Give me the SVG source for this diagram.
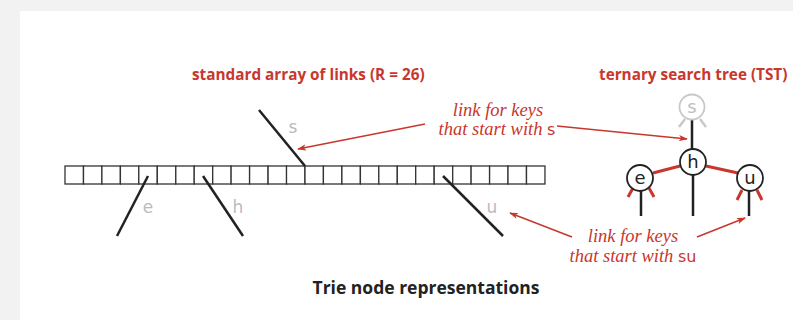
<svg xmlns="http://www.w3.org/2000/svg" width="793" height="320" viewBox="0 0 793 320">
<defs>
<style>
.title{font-family:"Open Sans","Liberation Sans",sans-serif;font-weight:bold;font-size:15.3px;fill:#c8372d}
.note{font-family:"Liberation Serif",serif;font-style:italic;font-size:18.5px;fill:#c8372d}
.mono{font-family:"DejaVu Sans","Liberation Sans",sans-serif;font-style:normal;font-size:16px}
.lbl{font-family:"DejaVu Sans","Liberation Sans",sans-serif;font-size:17px;fill:#bbbbbb}
.cell{fill:#fff;stroke:#333;stroke-width:1.3}
.link{stroke:#222;stroke-width:2.5;fill:none;stroke-linecap:butt}
.arr{stroke:#c8372d;stroke-width:1.5;fill:none}
.node{fill:#fff;stroke:#222;stroke-width:1.8}
.nodetxt{font-family:"DejaVu Sans","Liberation Sans",sans-serif;font-size:18px;fill:#222;text-anchor:middle}
.redl{stroke:#c8372d;stroke-width:3;fill:none}
.gray{stroke:#c8c8c8;stroke-width:2.5;fill:none}
</style>
<marker id="ah" viewBox="0 0 10 10" refX="9" refY="5" markerWidth="9" markerHeight="9" markerUnits="userSpaceOnUse" orient="auto">
<path d="M0,1.5 L10,5 L0,8.5 L2.5,5 Z" fill="#c8372d"/>
</marker>
</defs>
<rect x="0" y="0" width="793" height="320" fill="#f2f2f2"/>
<rect x="20" y="11" width="773" height="309" fill="#fff"/>

<text class="title" x="192" y="80">standard array of links (R = 26)</text>
<text class="title" x="599" y="80">ternary search tree (TST)</text>

<g id="array">
<rect class="cell" x="65.0" y="166" width="18.46" height="18"/>
<rect class="cell" x="83.5" y="166" width="18.46" height="18"/>
<rect class="cell" x="101.9" y="166" width="18.46" height="18"/>
<rect class="cell" x="120.4" y="166" width="18.46" height="18"/>
<rect class="cell" x="138.8" y="166" width="18.46" height="18"/>
<rect class="cell" x="157.3" y="166" width="18.46" height="18"/>
<rect class="cell" x="175.8" y="166" width="18.46" height="18"/>
<rect class="cell" x="194.2" y="166" width="18.46" height="18"/>
<rect class="cell" x="212.7" y="166" width="18.46" height="18"/>
<rect class="cell" x="231.1" y="166" width="18.46" height="18"/>
<rect class="cell" x="249.6" y="166" width="18.46" height="18"/>
<rect class="cell" x="268.1" y="166" width="18.46" height="18"/>
<rect class="cell" x="286.5" y="166" width="18.46" height="18"/>
<rect class="cell" x="305.0" y="166" width="18.46" height="18"/>
<rect class="cell" x="323.4" y="166" width="18.46" height="18"/>
<rect class="cell" x="341.9" y="166" width="18.46" height="18"/>
<rect class="cell" x="360.4" y="166" width="18.46" height="18"/>
<rect class="cell" x="378.8" y="166" width="18.46" height="18"/>
<rect class="cell" x="397.3" y="166" width="18.46" height="18"/>
<rect class="cell" x="415.7" y="166" width="18.46" height="18"/>
<rect class="cell" x="434.2" y="166" width="18.46" height="18"/>
<rect class="cell" x="452.7" y="166" width="18.46" height="18"/>
<rect class="cell" x="471.1" y="166" width="18.46" height="18"/>
<rect class="cell" x="489.6" y="166" width="18.46" height="18"/>
<rect class="cell" x="508.0" y="166" width="18.46" height="18"/>
<rect class="cell" x="526.5" y="166" width="18.46" height="18"/>
</g>

<g id="array-links">
<line class="link" x1="259" y1="110" x2="305" y2="166"/>
<line class="link" x1="148" y1="176" x2="117" y2="236"/>
<line class="link" x1="203" y1="176" x2="243" y2="236"/>
<line class="link" x1="443" y1="176" x2="503" y2="236"/>
<text class="lbl" x="293" y="133" text-anchor="middle">s</text>
<text class="lbl" x="148" y="213" text-anchor="middle">e</text>
<text class="lbl" x="238" y="213" text-anchor="middle">h</text>
<text class="lbl" x="492" y="213" text-anchor="middle">u</text>
</g>

<g id="tst-links">
<line class="gray" x1="685" y1="119" x2="679" y2="127"/>
<line class="gray" x1="700" y1="119" x2="706" y2="127"/>
<line class="link" x1="692" y1="120" x2="692" y2="149"/>
<line class="redl" x1="680" y1="166" x2="653" y2="173"/>
<line class="redl" x1="706" y1="166" x2="738" y2="173"/>
<line class="link" x1="693" y1="175" x2="693" y2="216"/>
<line class="link" x1="641" y1="191" x2="641" y2="216"/>
<line class="redl" x1="633" y1="188" x2="628" y2="197"/>
<line class="redl" x1="649" y1="188" x2="654" y2="197"/>
<line class="link" x1="749" y1="191" x2="749" y2="216"/>
<line class="redl" x1="742" y1="190" x2="737" y2="200"/>
<line class="redl" x1="757" y1="190" x2="762" y2="200"/>
</g>

<g id="node-s">
<circle cx="692" cy="107" r="12.5" fill="#fff" stroke="#c8c8c8" stroke-width="1.8"/>
<text class="nodetxt" x="692" y="113" style="fill:#c0c0c0">s</text>
</g>
<g id="node-h">
<circle class="node" cx="693" cy="162" r="13"/>
<text class="nodetxt" x="693" y="168">h</text>
</g>
<g id="node-e">
<circle class="node" cx="640" cy="178" r="13"/>
<text class="nodetxt" x="640" y="184">e</text>
</g>
<g id="node-u">
<circle class="node" cx="750" cy="178" r="13"/>
<text class="nodetxt" x="750" y="184">u</text>
</g>

<g id="annotations">
<text class="note" x="498" y="116" text-anchor="middle">link for keys</text>
<text class="note" x="497" y="135" text-anchor="middle">that start with <tspan class="mono">s</tspan></text>
<line class="arr" x1="425" y1="124" x2="298" y2="149" marker-end="url(#ah)"/>
<line class="arr" x1="557" y1="126" x2="687" y2="139" marker-end="url(#ah)"/>
<text class="note" x="633" y="242" text-anchor="middle">link for keys</text>
<text class="note" x="633" y="262" text-anchor="middle">that start with <tspan class="mono">su</tspan></text>
<line class="arr" x1="572" y1="237" x2="510" y2="213" marker-end="url(#ah)"/>
<line class="arr" x1="697" y1="237" x2="745" y2="218" marker-end="url(#ah)"/>
</g>

<text x="426" y="294" text-anchor="middle" style="font-family:'Open Sans','Liberation Sans',sans-serif;font-weight:bold;font-size:17.5px;fill:#222">Trie node representations</text>
</svg>
